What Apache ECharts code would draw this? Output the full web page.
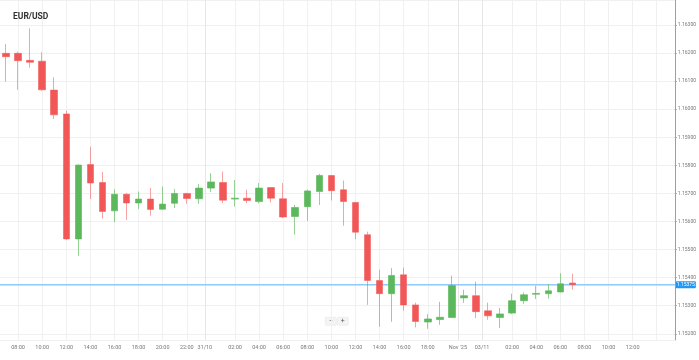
<!DOCTYPE html>
<html>
<head>
<meta charset="utf-8">
<script src="https://cdn.jsdelivr.net/npm/echarts@6/dist/echarts.min.js"></script>
<style>html,body{margin:0;padding:0;background:#fff;}#c{width:699px;height:360px;}</style>
</head>
<body>
<div id="c"></div>
<script>
// Hourly EUR/USD candles: Thu 30/10 07:00 .. Mon 03/11 07:00 (weekend gap)
const sessions = [['30/10', 7, 23], ['31/10', 0, 20], ['02/11', 22, 23], ['03/11', 0, 15]];
const categories = [];
sessions.forEach(function (s) { for (let h = s[1]; h <= s[2]; h++) categories.push(s[0] + ' ' + (h < 10 ? '0' : '') + h + ':00'); });

const openV  = [1.16199,1.16199,1.16174,1.16171,1.16068,1.15983,1.15538,1.15803,1.15739,1.15638,1.15697,1.15666,1.15680,1.15644,1.15665,1.15700,1.15681,1.15719,1.15739,1.15680,1.15683,1.15671,1.15721,1.15681,1.15618,1.15653,1.15707,1.15764,1.15713,1.15668,1.15553,1.15390,1.15343,1.15410,1.15303,1.15242,1.15251,1.15258,1.15328,1.15336,1.15282,1.15258,1.15274,1.15318,1.15341,1.15343,1.15349,1.15381];
const closeV = [1.16187,1.16173,1.16167,1.16069,1.15980,1.15538,1.15801,1.15737,1.15636,1.15697,1.15666,1.15680,1.15643,1.15662,1.15700,1.15682,1.15719,1.15741,1.15676,1.15683,1.15675,1.15719,1.15683,1.15616,1.15650,1.15709,1.15764,1.15710,1.15671,1.15562,1.15390,1.15343,1.15408,1.15303,1.15244,1.15253,1.15259,1.15372,1.15336,1.15279,1.15264,1.15271,1.15318,1.15339,1.15344,1.15353,1.15378,1.15375];
const lowV   = [1.16098,1.16069,1.16148,1.16066,1.15965,1.15535,1.15478,1.15680,1.15610,1.15598,1.15606,1.15645,1.15621,1.15642,1.15648,1.15663,1.15663,1.15705,1.15666,1.15653,1.15665,1.15665,1.15668,1.15612,1.15553,1.15602,1.15659,1.15675,1.15585,1.15537,1.15303,1.15225,1.15243,1.15283,1.15223,1.15218,1.15232,1.15256,1.15310,1.15256,1.15250,1.15221,1.15270,1.15307,1.15324,1.15325,1.15348,1.15357];
const highV  = [1.16232,1.16205,1.16288,1.16203,1.16114,1.15995,1.15803,1.15866,1.15776,1.15715,1.15701,1.15707,1.15719,1.15725,1.15716,1.15702,1.15734,1.15772,1.15778,1.15748,1.15713,1.15737,1.15722,1.15737,1.15659,1.15713,1.15770,1.15766,1.15746,1.15670,1.15564,1.15428,1.15434,1.15436,1.15311,1.15270,1.15314,1.15407,1.15357,1.15386,1.15311,1.15292,1.15343,1.15347,1.15371,1.15377,1.15416,1.15414];

const xLabels = [
  '', '08:00', '', '10:00', '', '12:00', '', '14:00', '', '16:00', '', '18:00', '', '20:00', '', '22:00', '',
  '31/10', '', '02:00', '', '04:00', '', '06:00', '', '08:00', '', '10:00', '', '12:00', '', '14:00', '', '16:00', '', '18:00', '', '',
  "Nov '25", '',
  '03/11', '', '02:00', '', '04:00', '', '06:00', '', '08:00', '', '10:00', '', '12:00', '', '', ''
];
const hiddenGridLabels = ['03/11 14:00'];
const yMin = 1.15178, yMax = 1.16389;

const candleData = openV.map(function (o, i) { return [o, closeV[i], lowV[i], highV[i]]; });
const lastPrice = closeV[closeV.length - 1];
const hourGrid = {}, sepGrid = {};
xLabels.forEach(function (t, i) {
  if (t.indexOf(':') >= 0) hourGrid[i] = true; else if (t) sepGrid[i] = true;
});
hiddenGridLabels.forEach(function (c) { hourGrid[categories.indexOf(c)] = true; });

const chart = echarts.init(document.getElementById('c'), null, {renderer: 'canvas'});
const FONT = 'Roboto, "Open Sans", sans-serif';
const zoomButtons = {
  type: 'group', id: 'zoomBtns', left: 325, top: 317,
  children: [
    {type: 'rect', shape: {x: 0, y: 0, width: 11, height: 8, r: 1}, style: {fill: '#f4f4f4', stroke: '#e2e2e2', lineWidth: 0.5}},
    {type: 'text', x: 5.5, y: 4, style: {text: '−', fontSize: 7, fill: '#555', align: 'center', verticalAlign: 'middle', fontFamily: FONT}},
    {type: 'rect', shape: {x: 12, y: 0, width: 11, height: 8, r: 1}, style: {fill: '#f4f4f4', stroke: '#e2e2e2', lineWidth: 0.5}},
    {type: 'text', x: 17.5, y: 4, style: {text: '+', fontSize: 7, fill: '#555', align: 'center', verticalAlign: 'middle', fontFamily: FONT}}
  ]
};
chart.setOption({
  animation: false,
  backgroundColor: '#ffffff',
  textStyle: {fontFamily: FONT},
  title: {text: 'EUR/USD', left: 8, top: 7, textStyle: {fontSize: 8.5, fontWeight: 'bold', color: '#333', fontFamily: FONT}},
  grid: {left: -1, right: 23, top: 0, bottom: 20},
  xAxis: [{
    type: 'category', data: categories, boundaryGap: true,
    axisLine: {show: false}, axisTick: {show: false},
    axisLabel: {
      interval: 0, fontSize: 5.5, color: '#777', margin: 5, fontFamily: FONT,
      formatter: function (v, i) { const t = xLabels[i] || ''; return sepGrid[i] ? '{d|' + t + '}' : t; },
      rich: {d: {fontSize: 5.5, color: '#777', fontFamily: FONT, padding: [0, 12, 0, 0]}}
    },
    splitLine: {show: true, alignWithLabel: true, interval: function (i) { return !!hourGrid[i]; }, lineStyle: {color: '#f0f0f0', width: 1}}
  }, {
    type: 'category', data: categories, boundaryGap: true, position: 'bottom',
    axisLine: {show: false}, axisTick: {show: false}, axisLabel: {show: false},
    splitLine: {show: true, interval: function (i) { return !!sepGrid[i]; }, lineStyle: {color: '#e6e6e6', width: 1}}
  }],
  yAxis: {
    type: 'value', position: 'right', min: yMin, max: yMax, splitNumber: 12,
    axisLine: {show: true, lineStyle: {color: '#9e9e9e'}},
    axisTick: {show: true, length: 2, lineStyle: {color: '#9e9e9e'}},
    axisLabel: {fontSize: 5, color: '#777', margin: 3, fontFamily: FONT, showMinLabel: false, showMaxLabel: false,
      formatter: function (v) { return v.toFixed(5); }},
    splitLine: {show: true, lineStyle: {color: '#f0f0f0'}}
  },
  series: [{
    type: 'candlestick', data: candleData, barWidth: 7, z: 3,
    itemStyle: {color: '#5cb85c', color0: '#f25757', borderColor: 'rgba(92,184,92,0.65)', borderColor0: 'rgba(242,87,87,0.55)', borderWidth: 1}
  }],
  graphic: [zoomButtons]
});

// Last-price line and tag, positioned through the chart's own scales
const py = chart.convertToPixel({yAxisIndex: 0}, lastPrice);
const xa = chart.convertToPixel({xAxisIndex: 0}, categories[0]);
const xb = chart.convertToPixel({xAxisIndex: 0}, categories[categories.length - 1]);
const band = (xb - xa) / (categories.length - 1);
const xLeft = xa - band / 2, xRight = xb + band / 2;
chart.setOption({
  graphic: [zoomButtons, {
    type: 'line', id: 'priceLine', z: 2, silent: true,
    shape: {x1: xLeft, y1: py, x2: xRight, y2: py},
    style: {stroke: '#90caf9', lineWidth: 1.5}
  }, {
    type: 'rect', id: 'priceTagBox', z: 10, silent: true,
    shape: {x: xRight + 1, y: py - 3.5, width: 20, height: 7, r: 1},
    style: {fill: '#2196f3'}
  }, {
    type: 'text', id: 'priceTagText', z: 11, silent: true,
    x: xRight + 11, y: py,
    style: {text: lastPrice.toFixed(5), fontSize: 5, fill: '#fff', align: 'center', verticalAlign: 'middle', fontFamily: FONT}
  }]
});
</script>
</body>
</html>
